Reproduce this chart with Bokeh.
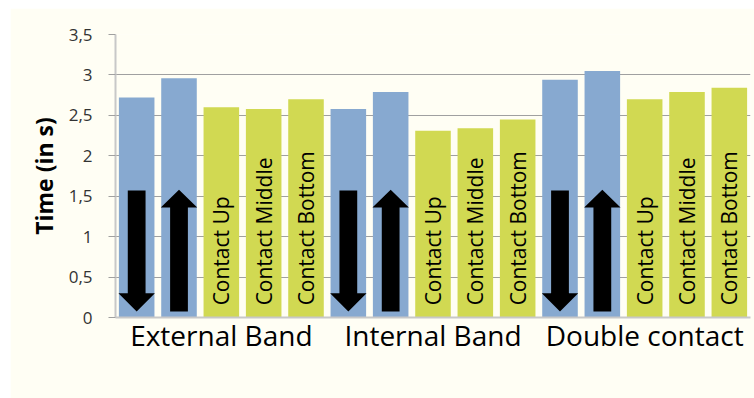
import math
from bokeh.plotting import figure
from bokeh.models import FixedTicker, Range1d
from bokeh.core.properties import value
from bokeh.embed import file_html
from bokeh.resources import INLINE

# ---- data ----
groups = ["External Band", "Internal Band", "Double contact"]
subcats = ["Down", "Up", "Contact Up", "Contact Middle", "Contact Bottom"]
external_band = [2.72, 2.96, 2.60, 2.58, 2.70]
internal_band = [2.58, 2.79, 2.31, 2.34, 2.45]
double_contact = [2.94, 3.05, 2.70, 2.79, 2.84]
y_ticks = [0, 0.5, 1, 1.5, 2, 2.5, 3, 3.5]
y_tick_labels = ["0", "0,5", "1", "1,5", "2", "2,5", "3", "3,5"]

BLUE = "#87a9d0"
GREEN = "#d1d952"
BG = "#fffef4"
FONT = "Open Sans"

n_sub = len(subcats)
xs, tops, colors, subs = [], [], [], []
for gi, vals in enumerate([external_band, internal_band, double_contact]):
    for si, v in enumerate(vals):
        xs.append(gi * n_sub + si + 0.5)
        tops.append(v)
        subs.append(subcats[si])
        colors.append(BLUE if si < 2 else GREEN)

p = figure(width=744, height=390, output_backend="svg", toolbar_location=None,
           x_range=Range1d(0, len(xs)), y_range=Range1d(0, 3.5),
           min_border_left=105, min_border_right=4, min_border_top=26,
           min_border_bottom=81)
p.margin = (8, 0, 0, 10)
p.background_fill_color = BG
p.border_fill_color = BG
p.outline_line_color = None

p.vbar(x=xs, top=tops, width=0.84, fill_color=colors, line_color=None)

# arrows in the blue bars
arr_xs, arr_ys = [], []
sw, hw = 0.21, 0.43
for x, s in zip(xs, subs):
    if s == "Down":
        arr_xs.append([x - sw, x + sw, x + sw, x + hw, x, x - hw, x - sw])
        arr_ys.append([1.57, 1.57, 0.30, 0.30, 0.075, 0.30, 0.30])
    elif s == "Up":
        arr_xs.append([x - sw, x + sw, x + sw, x + hw, x, x - hw, x - sw])
        arr_ys.append([0.075, 0.075, 1.36, 1.36, 1.58, 1.36, 1.36])
p.patches(arr_xs, arr_ys, fill_color="black", line_color=None)

# rotated labels in green bars
tx = [x for x, s in zip(xs, subs) if s.startswith("Contact")]
tt = [s for s in subs if s.startswith("Contact")]
p.text(x=tx, y=[0.15] * len(tx), text=tt, angle=math.pi / 2,
       text_align="left", text_baseline="middle",
       text_font=value(FONT), text_font_size="21px", text_color="black")

# axes
p.xgrid.grid_line_color = None
p.ygrid.grid_line_color = "#a0a0a0"
p.ygrid.grid_line_width = 1
p.ygrid.ticker = FixedTicker(ticks=y_ticks)

p.yaxis.ticker = FixedTicker(ticks=y_ticks)
p.yaxis.major_label_overrides = {t: l for t, l in zip(y_ticks, y_tick_labels)}
p.yaxis.major_label_text_font = FONT
p.yaxis.major_label_text_font_size = "17px"
p.yaxis.major_label_text_color = "#333333"
p.yaxis.major_tick_out = 7
p.yaxis.major_tick_in = 0
p.yaxis.major_tick_line_color = "#a0a0a0"
p.yaxis.minor_tick_line_color = None
p.yaxis.axis_line_color = "#c8c8c8"
p.yaxis.axis_line_width = 2
p.yaxis.major_label_standoff = 16
p.yaxis.axis_label = "Time (in s)"
p.yaxis.axis_label_text_font = FONT
p.yaxis.axis_label_text_font_style = "bold"
p.yaxis.axis_label_text_font_size = "23px"
p.yaxis.axis_label_text_color = "black"
p.yaxis.axis_label_standoff = 6

centers = [gi * n_sub + n_sub / 2 for gi in range(len(groups))]
p.xaxis.ticker = FixedTicker(ticks=centers)
p.xaxis.major_label_overrides = {c: g for c, g in zip(centers, groups)}
p.xaxis.major_label_text_font = FONT
p.xaxis.major_label_text_font_size = "28px"
p.xaxis.major_label_text_color = "black"
p.xaxis.major_tick_line_color = None
p.xaxis.minor_tick_line_color = None
p.xaxis.axis_line_color = "#c8c8c8"
p.xaxis.axis_line_width = 2
p.xaxis.major_label_standoff = -8

open("out.html", "w").write(file_html(p, INLINE))
